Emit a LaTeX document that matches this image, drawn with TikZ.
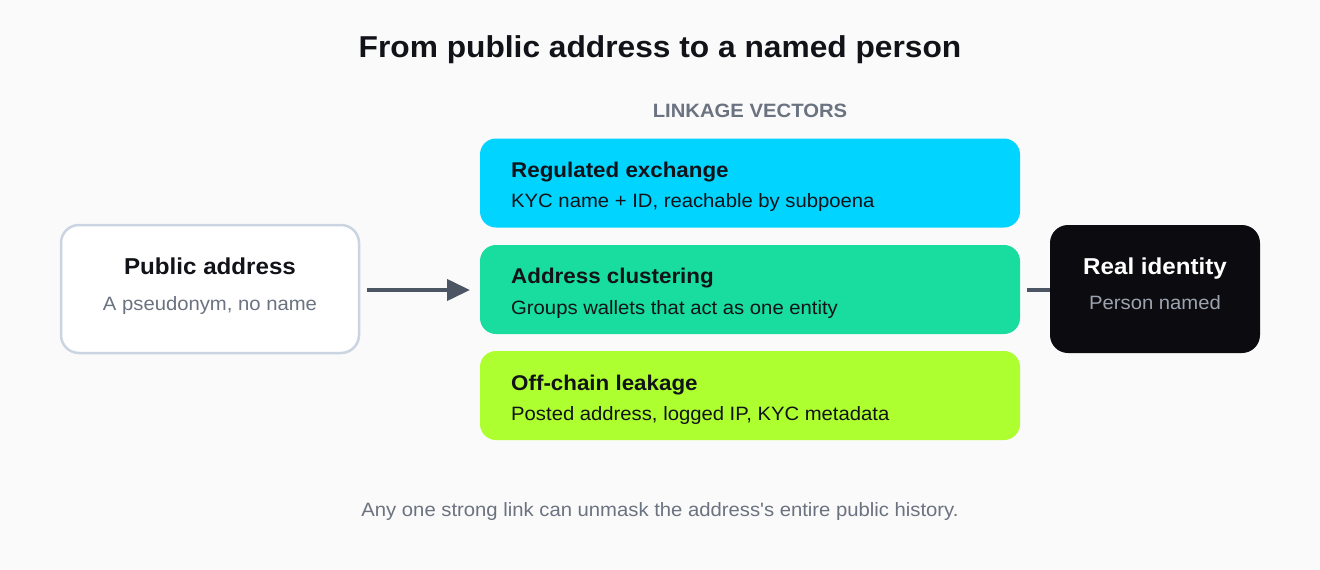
\documentclass[tikz,border=0pt]{standalone}
\usepackage{fontspec}
\newfontfamily\mainf{Liberation Sans}[FakeStretch=1.05]
\usetikzlibrary{arrows.meta}
\definecolor{bg}{HTML}{FAFAFA}
\definecolor{ink}{HTML}{111318}
\definecolor{muted}{HTML}{6B7280}
\definecolor{edge}{HTML}{CBD5E1}
\definecolor{arrowc}{HTML}{4B5563}
\definecolor{cyanbox}{HTML}{00D4FF}
\definecolor{greenbox}{HTML}{19DC9F}
\definecolor{limebox}{HTML}{ADFF2F}
\definecolor{darkbox}{HTML}{0C0C10}
\definecolor{lightmuted}{HTML}{9CA3AF}
\tikzset{
  vecbox/.style={rounded corners=16pt, minimum width=540pt, minimum height=89pt, inner sep=0pt},
  sidebox/.style={rounded corners=18pt, inner sep=0pt},
  ttl/.style={font=\mainf\fontsize{21.3}{25}\selectfont\bfseries, text=ink, anchor=base west, inner sep=0pt},
  sub/.style={font=\mainf\fontsize{19.3}{23}\selectfont, text=ink, anchor=base west, inner sep=0pt},
  sidettl/.style={font=\mainf\fontsize{23}{27}\selectfont\bfseries, anchor=base, inner sep=0pt},
  sidesub/.style={font=\mainf\fontsize{19.3}{23}\selectfont, anchor=base, inner sep=0pt},
  conn/.style={draw=arrowc, line width=4pt},
}
\begin{document}
\begin{tikzpicture}[x=1pt,y=-1pt]
\fill[bg] (0,0) rectangle (1320,570);
\useasboundingbox (0,0) rectangle (1320,570);

\node[font=\mainf\fontsize{30.2}{35}\selectfont\bfseries, text=ink, anchor=base, inner sep=0pt] (title) at (660,57) {From public address to a named person};
\node[font=\mainf\fontsize{19.3}{23}\selectfont\bfseries, text=muted, anchor=base, inner sep=0pt] (lv) at (750,117) {LINKAGE VECTORS};

% connectors (drawn beneath boxes)
\coordinate (a0) at (367,290);
\coordinate (b0) at (1027,290);
\coordinate (b1) at (1080,290);
\draw[conn, -{Triangle[length=23pt,width=21pt]}] (a0) -- (470,290) coordinate (a1);
\draw[conn] (b0) -- (b1);

% public address
\node[sidebox, draw=edge, line width=2.5pt, fill=white, minimum width=298pt, minimum height=128pt] (pub) at (210,289) {};
\node[sidettl, text=ink] (pubt) at (210,274) {Public address};
\node[sidesub, text=muted] (pubs) at (210,310) {A pseudonym, no name};

% vectors
\node[vecbox, fill=cyanbox] (v1) at (750,183) {};
\node[ttl] (v1t) at (511,177) {Regulated exchange};
\node[sub] (v1s) at (511,207) {KYC name + ID, reachable by subpoena};

\node[vecbox, fill=greenbox] (v2) at (750,289.5) {};
\node[ttl] (v2t) at (511,283.5) {Address clustering};
\node[sub] (v2s) at (511,314) {Groups wallets that act as one entity};

\node[vecbox, fill=limebox] (v3) at (750,395.5) {};
\node[ttl] (v3t) at (511,390) {Off-chain leakage};
\node[sub] (v3s) at (511,420) {Posted address, logged IP, KYC metadata};

% real identity
\node[sidebox, fill=darkbox, minimum width=210pt, minimum height=128pt] (real) at (1155,289) {};
\node[sidettl, text=white] (realt) at (1155,274) {Real identity};
\node[sidesub, text=lightmuted] (reals) at (1155,309) {Person named};

\node[font=\mainf\fontsize{19.3}{23}\selectfont, text=muted, anchor=base, inner sep=0pt] (foot) at (660,516) {Any one strong link can unmask the address's entire public history.};
\end{tikzpicture}
\end{document}
